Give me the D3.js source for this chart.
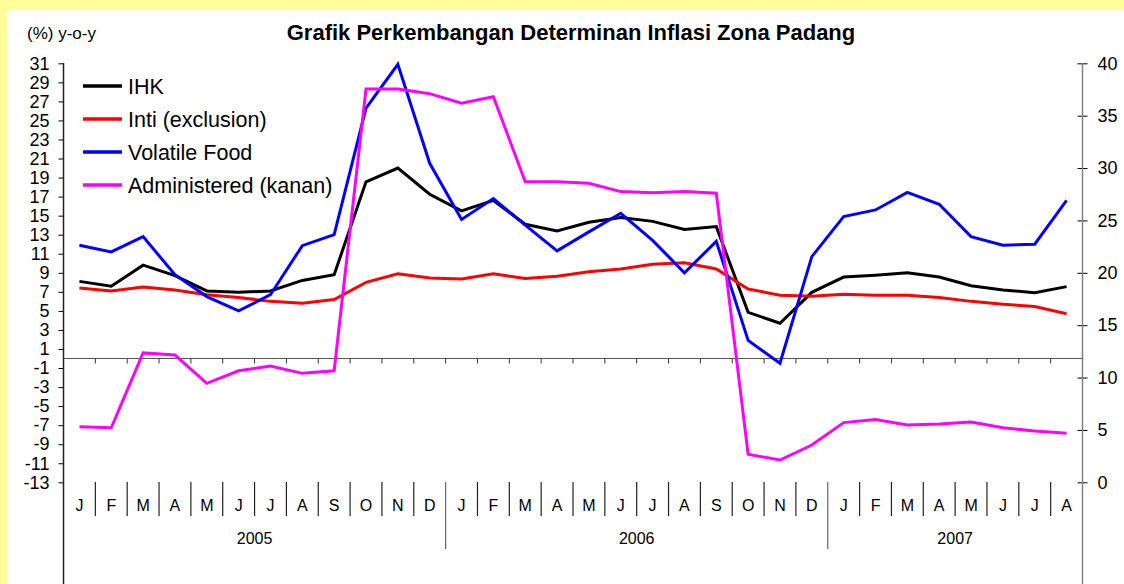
<!DOCTYPE html>
<html>
<head>
<meta charset="utf-8">
<style>
  body { margin: 0; background: #ffff99; }
  svg { display: block; font-family: "Liberation Sans", Arial, sans-serif; }
</style>
</head>
<body>
<svg></svg>
<script src="https://d3js.org/d3.v7.min.js"></script>
<script>
const width = 1124, height = 584;

// data, Jan 2005 .. Aug 2007
const monthLabels = ["J","F","M","A","M","J","J","A","S","O","N","D",
                     "J","F","M","A","M","J","J","A","S","O","N","D",
                     "J","F","M","A","M","J","J","A"];
const years = [{label: "2005", from: 0, to: 12}, {label: "2006", from: 12, to: 24}, {label: "2007", from: 24, to: 32}];
const ihk = [8.1, 7.6, 9.8, 8.7, 7.1, 6.95, 7.1, 8.2, 8.8, 18.55, 20.0, 17.25,
             15.5, 16.6, 14.1, 13.4, 14.3, 14.8, 14.4, 13.55, 13.85, 4.85, 3.7, 6.95,
             8.55, 8.75, 9.0, 8.55, 7.65, 7.2, 6.9, 7.55];
const inti = [7.4, 7.1, 7.5, 7.2, 6.7, 6.4, 6.0, 5.8, 6.2, 8.0, 8.9, 8.45,
              8.35, 8.9, 8.4, 8.65, 9.1, 9.4, 9.9, 10.05, 9.4, 7.3, 6.65, 6.55,
              6.75, 6.65, 6.65, 6.4, 6.0, 5.7, 5.45, 4.7];
const volatile = [11.9, 11.2, 12.8, 8.8, 6.5, 5.0, 6.7, 11.85, 13.0, 26.3, 30.9, 20.5,
                  14.6, 16.8, 14.0, 11.3, 13.3, 15.25, 12.4, 9.0, 12.3, 1.9, -0.5, 10.7,
                  14.9, 15.6, 17.45, 16.2, 12.8, 11.9, 12.0, 16.6];
const administered = [5.3, 5.2, 12.35, 12.15, 9.45, 10.65, 11.1, 10.4, 10.65, 37.55, 37.55, 37.1,
                      36.2, 36.8, 28.7, 28.7, 28.55, 27.75, 27.65, 27.75, 27.6, 2.67, 2.13, 3.56,
                      5.7, 6.0, 5.47, 5.56, 5.75, 5.2, 4.9, 4.68];
const leftTicks = d3.range(-13, 32, 2);
const rightTicks = d3.range(0, 41, 5);

const series = [
  {name: "IHK", values: ihk, color: "#000000", axis: "left"},
  {name: "Inti (exclusion)", values: inti, color: "#ff0000", axis: "left"},
  {name: "Volatile Food", values: volatile, color: "#0000ff", axis: "left"},
  {name: "Administered (kanan)", values: administered, color: "#ff00ff", axis: "right"}
];

const svg = d3.select("svg").attr("width", width).attr("height", height);

svg.append("rect").attr("x", 7).attr("y", 10).attr("width", width - 7).attr("height", height - 10)
  .attr("fill", "#ffffff");

const x0 = 63.5, x1 = 1082.5;
const x = d3.scaleBand().domain(d3.range(monthLabels.length)).range([x0, x1]).padding(0);
const yL = d3.scaleLinear().domain([-13, 31]).range([482.3, 63.3]);
const yR = d3.scaleLinear().domain([0, 40]).range([482.3, 63.3]);
const cx = i => x(i) + x.bandwidth() / 2;
const fmt = d => String(d); // plain hyphen for negatives

// title
svg.append("text").attr("x", 571).attr("y", 40).attr("text-anchor", "middle")
  .attr("font-size", 22).attr("font-weight", "bold").text("Grafik Perkembangan Determinan Inflasi Zona Padang");
svg.append("text").attr("x", 27).attr("y", 39).attr("font-size", 17).text("(%) y-o-y");

// left axis
const gl = svg.append("g").attr("transform", `translate(${x0},0)`)
  .call(d3.axisLeft(yL).tickValues(leftTicks).tickFormat(fmt).tickSize(5).tickPadding(9).tickSizeOuter(0));
gl.select(".domain").remove();
gl.selectAll("text").attr("font-size", 18).attr("fill", "#000").attr("font-family", "Liberation Sans, Arial, sans-serif");
gl.selectAll("line").attr("stroke", "#000");
svg.append("line").attr("x1", x0).attr("x2", x0).attr("y1", 63).attr("y2", height)
  .attr("stroke", "#222").attr("stroke-width", 1.5);

// right axis
const gr = svg.append("g").attr("transform", `translate(${x1},0)`)
  .call(d3.axisRight(yR).tickValues(rightTicks).tickFormat(fmt).tickSize(5).tickPadding(10).tickSizeOuter(0));
gr.select(".domain").remove();
gr.selectAll(".tick line").attr("x1", -5).attr("stroke", "#000");
gr.selectAll("text").attr("font-size", 18).attr("fill", "#000").attr("font-family", "Liberation Sans, Arial, sans-serif");
svg.append("line").attr("x1", x1).attr("x2", x1).attr("y1", 63).attr("y2", height)
  .attr("stroke", "#808080").attr("stroke-width", 1.5);

// zero line with month ticks
const y0 = yL(0);
svg.append("line").attr("x1", x0).attr("x2", x1).attr("y1", y0).attr("y2", y0)
  .attr("stroke", "#555").attr("stroke-width", 1.2);
svg.append("g").selectAll("line").data(d3.range(1, monthLabels.length)).join("line")
  .attr("x1", i => x(i)).attr("x2", i => x(i)).attr("y1", y0).attr("y2", y0 + 5)
  .attr("stroke", "#333").attr("stroke-width", 1);

// category band below
const isYearStart = i => years.some(yr => yr.from === i);
svg.append("g").selectAll("line").data(d3.range(1, monthLabels.length)).join("line")
  .attr("x1", i => x(i)).attr("x2", i => x(i)).attr("y1", 482)
  .attr("y2", i => isYearStart(i) ? 549 : 516)
  .attr("stroke", i => isYearStart(i) ? "#666" : "#222").attr("stroke-width", 1.2);
svg.append("g").selectAll("text").data(monthLabels).join("text")
  .attr("x", (d, i) => cx(i)).attr("y", 511).attr("text-anchor", "middle")
  .attr("font-size", 16).text(d => d);
svg.append("g").selectAll("text").data(years).join("text")
  .attr("x", d => (x(d.from) + x(d.to - 1) + x.bandwidth()) / 2).attr("y", 544)
  .attr("text-anchor", "middle").attr("font-size", 16).text(d => d.label);

// series lines
series.forEach(s => {
  const y = s.axis === "left" ? yL : yR;
  svg.append("path").datum(s.values)
    .attr("fill", "none").attr("stroke", s.color).attr("stroke-width", 3)
    .attr("stroke-linejoin", "miter")
    .attr("d", d3.line().x((d, i) => cx(i)).y(d => y(d)));
});

// legend
const lg = svg.append("g");
series.forEach((s, i) => {
  const ly = 86 + i * 33;
  lg.append("line").attr("x1", 83).attr("x2", 122).attr("y1", ly).attr("y2", ly)
    .attr("stroke", s.color).attr("stroke-width", 3.5);
  lg.append("text").attr("x", 128).attr("y", ly + 7.5).attr("font-size", 21.5).text(s.name);
});
</script>
</body>
</html>
